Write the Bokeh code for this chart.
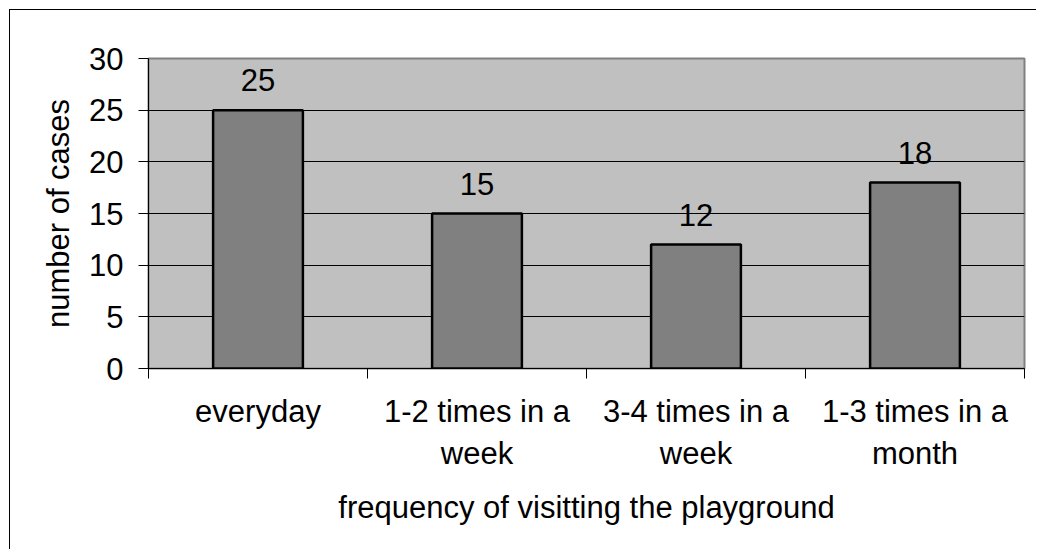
from bokeh.plotting import figure
from bokeh.models import FixedTicker, ColumnDataSource, Range1d
from bokeh.core.properties import value
from bokeh.embed import file_html
from bokeh.resources import INLINE

categories = ["everyday", "1-2 times in a\nweek", "3-4 times in a\nweek", "1-3 times in a\nmonth"]
values = [25, 15, 12, 18]
y_ticks = [0, 5, 10, 15, 20, 25, 30]
x_title = "frequency of visitting the playground"
y_title = "number of cases"

FONT = "Liberation Sans"
FS = "31px"

xs = [i + 0.5 for i in range(len(categories))]
bounds = list(range(len(categories) + 1))
src = ColumnDataSource(dict(x=xs, v=values, lab=[str(v) for v in values]))

p = figure(width=1027, height=540, x_range=Range1d(0, len(categories)),
           y_range=Range1d(min(y_ticks), max(y_ticks)),
           output_backend="svg", toolbar_location=None,
           min_border_left=138, min_border_right=13, min_border_top=48, min_border_bottom=182)
p.styles = {"margin-left": "9px", "margin-top": "9px",
            "border-left": "1px solid black", "border-top": "1px solid black",
            "border-right": "none", "border-bottom": "none"}

p.background_fill_color = "#C0C0C0"
p.border_fill_color = "white"
p.outline_line_color = "#808080"
p.outline_line_width = 2

p.vbar(x="x", top="v", width=0.41, source=src, fill_color="#808080",
       line_color="black", line_width=2.5)
p.text(x="x", y="v", text="lab", source=src, text_align="center",
       text_baseline="alphabetic", y_offset=-30, text_font=value(FONT),
       text_font_size=FS, text_color="black")

# grid
p.xgrid.visible = False
p.ygrid.grid_line_color = "black"
p.ygrid.grid_line_width = 1

# y axis
p.yaxis.ticker = FixedTicker(ticks=y_ticks)
p.yaxis.axis_line_color = "black"
p.yaxis.major_tick_line_color = "black"
p.yaxis.major_tick_out = 10
p.yaxis.major_tick_in = 0
p.yaxis.minor_tick_line_color = None
p.yaxis.major_label_text_font = FONT
p.yaxis.major_label_text_font_size = FS
p.yaxis.major_label_text_color = "black"
p.yaxis.major_label_standoff = 15
p.yaxis.axis_label = y_title
p.yaxis.axis_label_text_font = FONT
p.yaxis.axis_label_text_font_size = FS
p.yaxis.axis_label_text_font_style = "normal"
p.yaxis.axis_label_text_color = "black"
p.yaxis.axis_label_standoff = 10

# x axis
p.xaxis.ticker = FixedTicker(ticks=xs, minor_ticks=bounds)
p.xaxis.major_label_overrides = {x: c for x, c in zip(xs, categories)}
p.xaxis.axis_line_color = "black"
p.xaxis.major_tick_line_color = None
p.xaxis.major_tick_out = 10
p.xaxis.major_tick_in = 0
p.xaxis.minor_tick_line_color = "black"
p.xaxis.minor_tick_out = 10
p.xaxis.minor_tick_in = 0
p.xaxis.major_label_text_font = FONT
p.xaxis.major_label_text_font_size = FS
p.xaxis.major_label_text_color = "black"
p.xaxis.major_label_standoff = 15
p.xaxis.axis_label = x_title
p.xaxis.axis_label_text_font = FONT
p.xaxis.axis_label_text_font_size = FS
p.xaxis.axis_label_text_font_style = "normal"
p.xaxis.axis_label_text_color = "black"
p.xaxis.axis_label_standoff = 16

open("out.html", "w").write(file_html(p, INLINE))
